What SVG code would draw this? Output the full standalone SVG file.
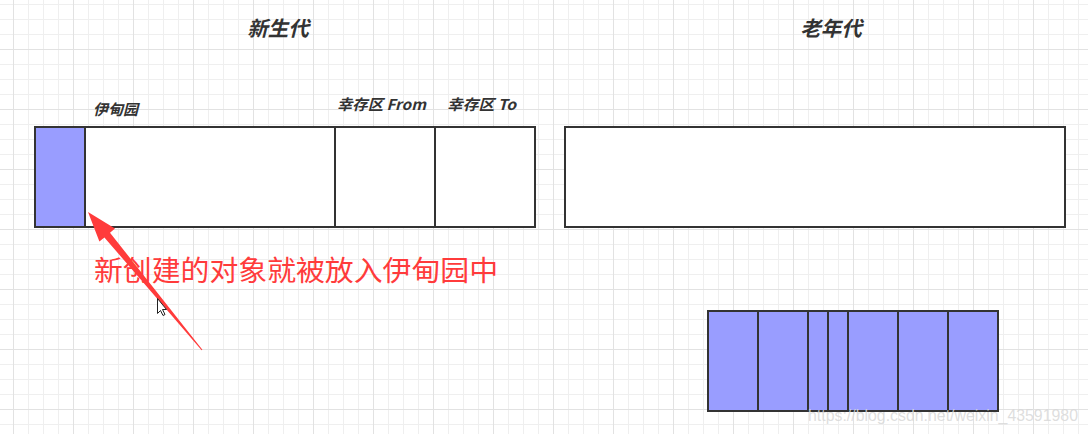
<svg xmlns="http://www.w3.org/2000/svg" width="1088" height="434" viewBox="0 0 1088 434">
<defs>
<pattern id="minor" x="13" y="4" width="15" height="15" patternUnits="userSpaceOnUse">
<path d="M0.5 0V15M0 0.5H15" stroke="#efefef" stroke-width="1" fill="none"/>
</pattern>
<pattern id="major" x="13" y="49" width="60" height="60" patternUnits="userSpaceOnUse">
<path d="M0.5 0V60M0 0.5H60" stroke="#e2e2e2" stroke-width="1" fill="none"/>
</pattern>
</defs>
<style>
.box{fill:#fff;stroke:#333;stroke-width:2}
.fill{fill:#999dff;stroke:#333;stroke-width:2}
.div{stroke:#333;stroke-width:2}
.title{font-family:"Noto Sans CJK SC","Liberation Sans",sans-serif;font-weight:bold;font-style:italic;fill:#333}
.red{font-family:"Noto Sans CJK SC","Liberation Sans",sans-serif;fill:#ff3b3b}
.wm{font-family:"Liberation Sans",Arial,sans-serif;fill:#d8d8d8;fill-opacity:0.85}
</style>
<rect width="1088" height="434" fill="#fff"/>
<rect width="1088" height="434" fill="url(#minor)"/>
<rect width="1088" height="434" fill="url(#major)"/>

<g id="young-title"><text class="title" x="278" y="36" font-size="20.5" text-anchor="middle">新生代</text></g>
<g id="old-title"><text class="title" x="831" y="36" font-size="20.5" text-anchor="middle">老年代</text></g>

<g id="young-gen">
<rect class="box" x="35" y="127" width="500" height="100"/>
<rect class="fill" x="35" y="127" width="50" height="100"/>
<line class="div" x1="335" y1="127" x2="335" y2="227"/>
<line class="div" x1="435" y1="127" x2="435" y2="227"/>
</g>
<g id="eden-label"><text class="title" x="93" y="115" font-size="15">伊甸园</text></g>
<g id="from-label"><text class="title" x="337" y="110" font-size="15" textLength="89" lengthAdjust="spacingAndGlyphs">幸存区 From</text></g>
<g id="to-label"><text class="title" x="447" y="110" font-size="15" textLength="69" lengthAdjust="spacingAndGlyphs">幸存区 To</text></g>

<g id="old-gen"><rect class="box" x="565" y="127" width="500" height="100"/></g>

<g id="old-objects">
<rect class="fill" x="708" y="311" width="290" height="100"/>
<line class="div" x1="758" y1="311" x2="758" y2="411"/>
<line class="div" x1="808" y1="311" x2="808" y2="411"/>
<line class="div" x1="828" y1="311" x2="828" y2="411"/>
<line class="div" x1="848" y1="311" x2="848" y2="411"/>
<line class="div" x1="898" y1="311" x2="898" y2="411"/>
<line class="div" x1="948" y1="311" x2="948" y2="411"/>
</g>

<g id="connectors">
<polygon fill="#ff3b3b" points="88,212 115,228.6 110,232.7 202.4,349.7 201.6,350.3 104.4,237.4 99.4,241.5"/>
</g>

<g id="annotation"><text class="red" x="94" y="281" font-size="28" textLength="404" lengthAdjust="spacingAndGlyphs">新创建的对象就被放入伊甸园中</text></g>

<g id="cursor">
<path d="M157.5 298.5V313.5L160.5 310.5L163 315.5L165 314.5L162.5 309.5H166.5Z" fill="#fff" stroke="#222" stroke-width="1"/>
</g>

<g id="watermark"><text class="wm" x="808" y="421" font-size="16.5" textLength="270" lengthAdjust="spacingAndGlyphs">https://blog.csdn.net/weixin_43591980</text></g>
</svg>
